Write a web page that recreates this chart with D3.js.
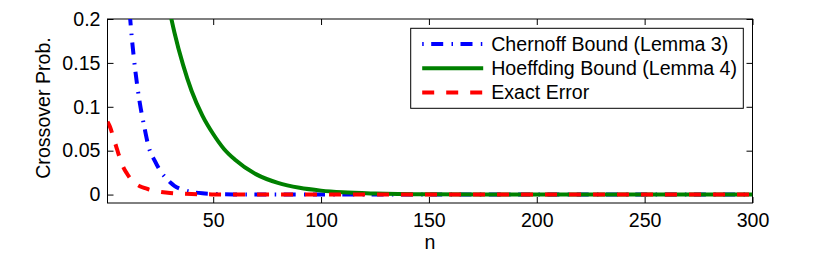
<!DOCTYPE html>
<html>
<head>
<meta charset="utf-8">
<script src="https://cdn.jsdelivr.net/npm/d3@7"></script>
<style>
  body { margin: 0; background: #fff; }
  text { font-family: "Liberation Sans", Arial, sans-serif; fill: #000; }
</style>
</head>
<body>
<div id="chart"></div>
<script>
// sample points of n shared by all curves
var nValues = [1, 2, 3, 4, 5, 6, 7, 8, 9, 10, 12, 14, 16, 18, 20, 23, 26, 28, 30, 32,
    36, 40, 45, 50, 55, 60, 70, 80, 90, 100, 110, 125, 150, 175, 200, 250, 300];

// values (null = not drawn / above the plot)
var chernoff = [null, null, null, null, null, null, null, null, null, 0.25, 0.186, 0.139, 0.104, 0.078, 0.055, 0.038, 0.025, 0.019, 0.014, 0.010,
    0.0055, 0.003, 0.0014, 0.0008, 0.0004, 0.0002, 0, 0, 0, 0, 0, 0, 0, 0, 0, 0, 0];
var hoeffding = [null, null, null, null, null, null, null, null, null, null, null, null, null, null, null, null, null, 0.231, 0.207, 0.185,
    0.148, 0.118, 0.090, 0.069, 0.052, 0.040, 0.023, 0.0133, 0.0077, 0.0045, 0.0026, 0.0012, 0.0003, 0.0001, 0, 0, 0];
var exact = [0.083, 0.078, 0.071, 0.062, 0.055, 0.047, 0.040, 0.033, 0.028, 0.024, 0.017, 0.0125, 0.0095, 0.0075, 0.006, 0.0042, 0.003, 0.0024, 0.0019, 0.0015,
    0.001, 0.0006, 0.0003, 0.0002, 0.0001, 0, 0, 0, 0, 0, 0, 0, 0, 0, 0, 0, 0];

var seriesNames = ["Chernoff Bound (Lemma 3)", "Hoeffding Bound (Lemma 4)", "Exact Error"];
var seriesColors = ["#0000ff", "#008000", "#ff0000"];
var seriesDash = ["1.5,7.5,12,8.3", null, "12,12"];
var xTicks = [50, 100, 150, 200, 250, 300];
var yTicks = [0, 0.05, 0.1, 0.15, 0.2];
var yTickLabels = ["0", "0.05", "0.1", "0.15", "0.2"];

var margin = { top: 19, right: 77.5, bottom: 53, left: 107.5 };
var width = 830 - margin.left - margin.right,
    height = 256 - margin.top - margin.bottom;

var svg = d3.select("#chart").append("svg")
    .attr("width", 830)
    .attr("height", 256)
    .append("g")
    .attr("transform", "translate(" + margin.left + "," + margin.top + ")");

var x = d3.scaleLinear().domain([1, 300]).range([0, width]);
var y = d3.scaleLinear().domain([-0.0096, 0.2]).range([height, 0]);

svg.append("defs").append("clipPath").attr("id", "clip")
    .append("rect").attr("width", width).attr("height", height);

// axes (inside ticks, mirrored on top and right like matlab)
var fontSize = "19.6px";
var xAxis = d3.axisBottom(x).tickValues(xTicks).tickSizeInner(-6).tickSizeOuter(0).tickPadding(10.5);
var xTop = d3.axisTop(x).tickValues(xTicks).tickSizeInner(-6).tickSizeOuter(0).tickFormat("");
var yAxis = d3.axisLeft(y).tickValues(yTicks).tickSizeInner(-6).tickSizeOuter(0).tickPadding(7)
    .tickFormat(function(d, i) { return yTickLabels[i]; });
var yRight = d3.axisRight(y).tickValues(yTicks).tickSizeInner(-6).tickSizeOuter(0).tickFormat("");

svg.append("g").attr("transform", "translate(0," + height + ")").call(xAxis);
svg.append("g").call(xTop);
svg.append("g").call(yAxis);
svg.append("g").attr("transform", "translate(" + width + ",0)").call(yRight);

svg.selectAll(".tick text").style("font-size", fontSize).attr("fill", "#000");
svg.selectAll(".tick line").attr("stroke", "#000");
svg.selectAll(".domain").remove();

svg.append("rect")
    .attr("width", width).attr("height", height)
    .attr("fill", "none").attr("stroke", "#000").attr("stroke-width", 1);

// curves
var allSeries = [chernoff, hoeffding, exact];
var line = d3.line()
    .defined(function(d) { return d[1] != null; })
    .x(function(d) { return x(d[0]); })
    .y(function(d) { return y(d[1]); })
    .curve(d3.curveMonotoneX);

allSeries.forEach(function(vals, i) {
    var pts = nValues.map(function(n, j) { return [n, vals[j]]; });
    svg.append("path")
        .datum(pts)
        .attr("clip-path", "url(#clip)")
        .attr("fill", "none")
        .attr("stroke", seriesColors[i])
        .attr("stroke-width", 4)
        .attr("stroke-dasharray", seriesDash[i])
        .attr("d", line);
});

// labels
svg.append("text")
    .attr("x", width / 2)
    .attr("y", height + 45.5)
    .style("text-anchor", "middle")
    .style("font-size", fontSize)
    .text("n");

svg.append("text")
    .attr("transform", "translate(" + (50 - margin.left) + "," + (height / 2 - 3) + ") rotate(-90)")
    .style("text-anchor", "middle")
    .style("font-size", fontSize)
    .text("Crossover Prob.");

// legend
var legend = svg.append("g").attr("transform", "translate(" + (410.7 - margin.left) + "," + (28.3 - margin.top) + ")");
legend.append("rect")
    .attr("width", 332.6).attr("height", 80)
    .attr("fill", "#fff").attr("stroke", "#000").attr("stroke-width", 1);

seriesNames.forEach(function(name, i) {
    var ly = 15.7 + i * 24.3;
    legend.append("line")
        .attr("x1", 11.5).attr("x2", 72.5)
        .attr("y1", ly).attr("y2", ly)
        .attr("stroke", seriesColors[i])
        .attr("stroke-width", 4)
        .attr("stroke-dasharray", seriesDash[i]);
    legend.append("text")
        .attr("x", 80.5)
        .attr("y", ly)
        .attr("dy", "0.35em")
        .style("font-size", fontSize)
        .text(name);
});
</script>
</body>
</html>
